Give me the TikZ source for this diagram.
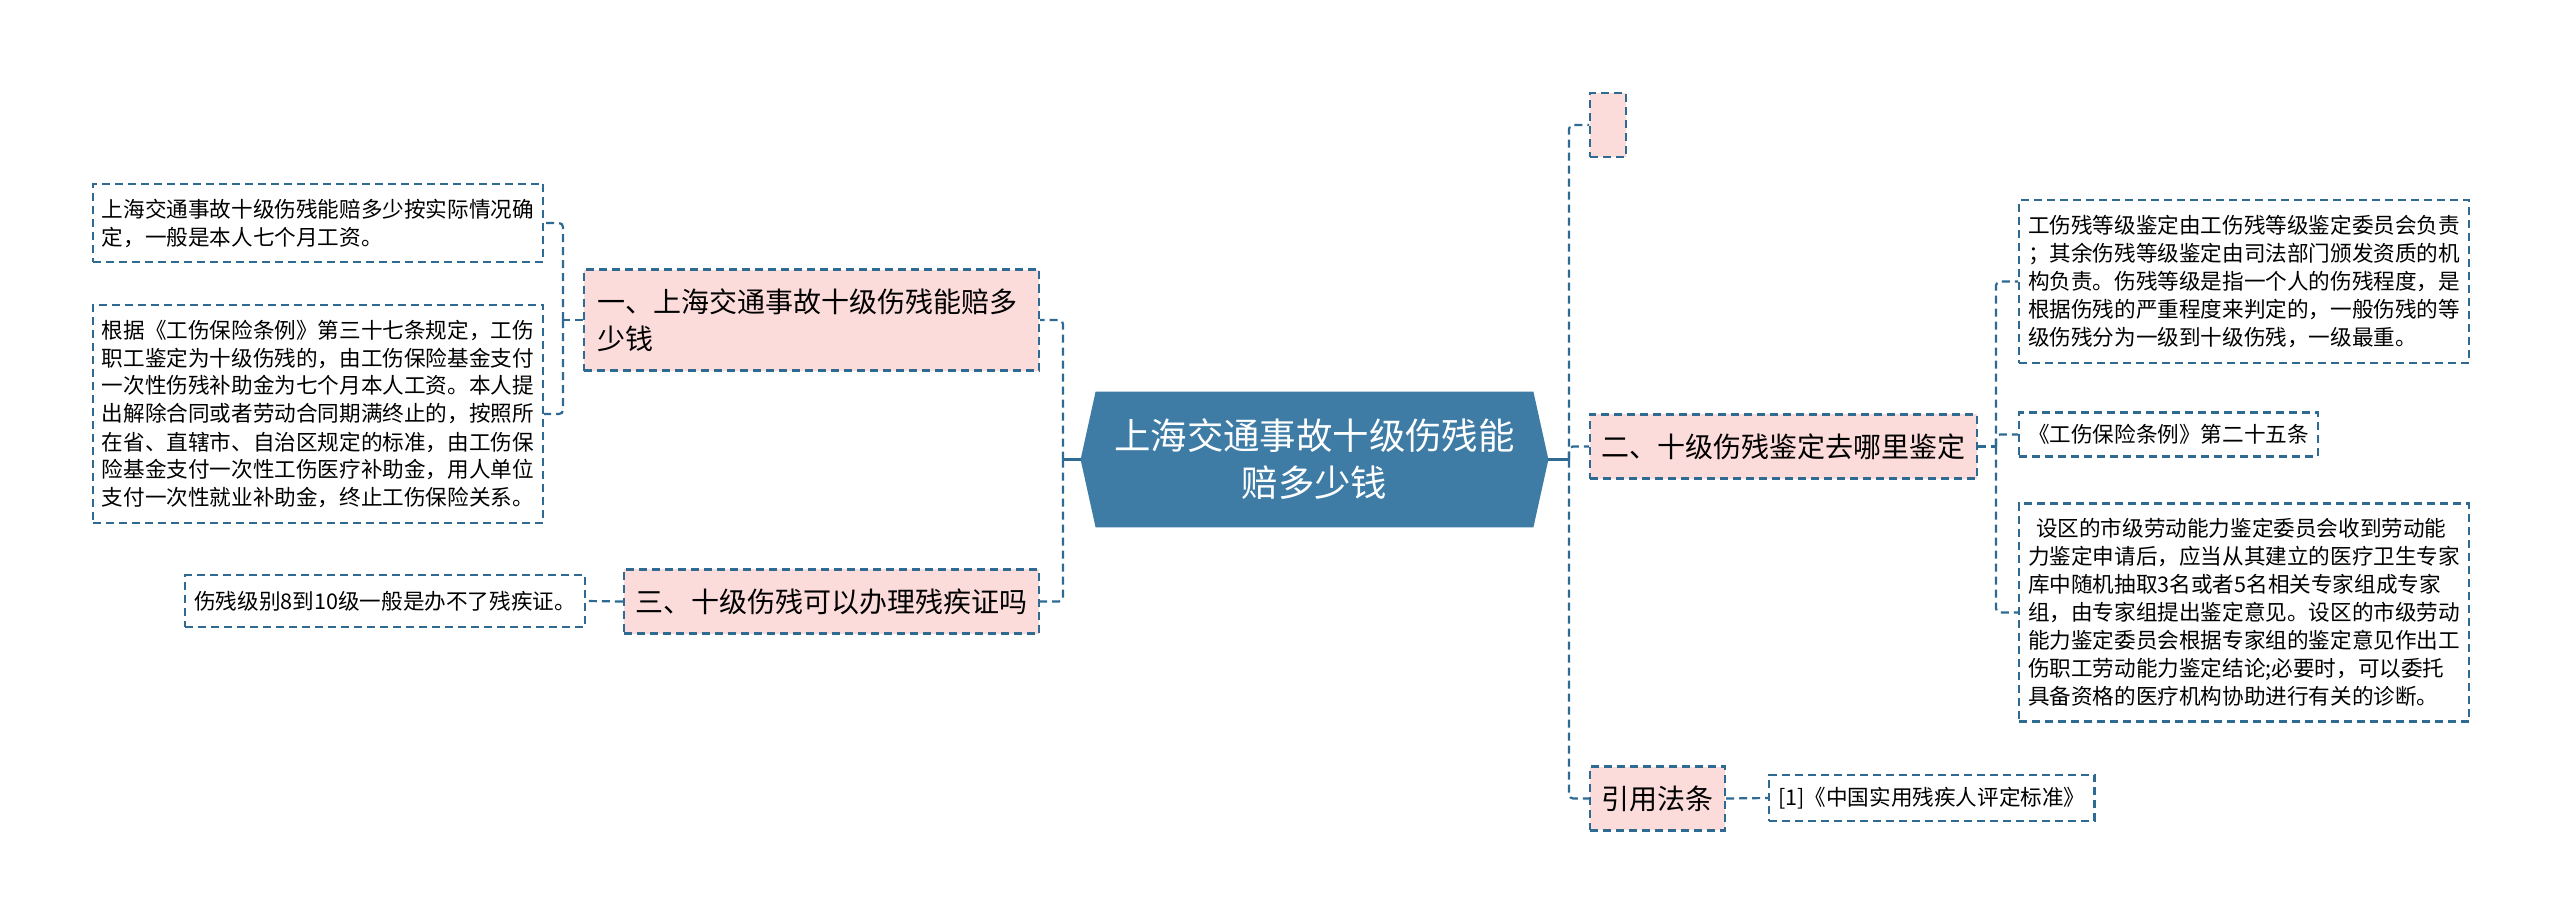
\documentclass[tikz,border=0pt]{standalone}
\usepackage{fontspec}
\setmainfont{Noto Sans CJK SC}
\usepackage{tikz}
\usetikzlibrary{backgrounds}
\definecolor{mapblue}{RGB}{62,124,166}
\definecolor{mapline}{RGB}{47,106,146}
\definecolor{mappink}{RGB}{251,220,219}

\begin{document}
\begin{tikzpicture}[x=0.5pt,y=-0.5pt,
  hub/.style={minimum width=233.5pt,minimum height=67.5pt,inner sep=0pt,align=center,text=white,font=\fontsize{18.2pt}{23.5pt}\selectfont},
  topic/.style={draw=mapline,line width=1.1pt,dash pattern=on 4pt off 2.5pt,fill=mappink,inner xsep=5.75pt,inner ysep=9.5pt,minimum height=31.5pt,align=left,font=\fontsize{14pt}{18.5pt}\selectfont},
  note/.style={draw=mapline,line width=1.1pt,dash pattern=on 4pt off 2.5pt,fill=white,inner xsep=4.5pt,inner ysep=7.5pt,align=left,font=\fontsize{10.8pt}{14pt}\selectfont},
  link/.style={mapline,line width=1.1pt,dash pattern=on 4pt off 2.5pt,rounded corners=2pt}]
\useasboundingbox (0,0) rectangle (2560,922);
\node[hub] (root) at (1314.5,459.5) {上海交通事故十级伤残能\\赔多少钱};
\begin{scope}[on background layer]
\fill[white] (0,0) rectangle (2560,922);
\fill[mapblue] ([xshift=7.5pt]root.north west) -- ([xshift=-7.5pt]root.north east) -- (root.east)
  -- ([xshift=-7.5pt]root.south east) -- ([xshift=7.5pt]root.south west) -- (root.west) -- cycle;
\end{scope}
\node[topic,text width=214pt,inner xsep=6.75pt,anchor=east] (b1) at (1040,320) {一、上海交通事故十级伤残能赔多\\少钱};
\node[topic,anchor=east] (b3) at (1040,601.5) {三、十级伤残可以办理残疾证吗};
\node[topic,anchor=west,minimum width=18pt,minimum height=32pt,inner sep=0pt] (b0) at (1589,125) {};
\node[topic,anchor=west] (b2) at (1589,446.5) {二、十级伤残鉴定去哪里鉴定};
\node[topic,anchor=west] (b4) at (1589,798.5) {引用法条};
\node[note,text width=216pt,anchor=east] (l1) at (544,223) {上海交通事故十级伤残能赔多少按实际情况确\\定，一般是本人七个月工资。};
\node[note,text width=216pt,anchor=east] (l2) at (544,414) {根据《工伤保险条例》第三十七条规定，工伤\\职工鉴定为十级伤残的，由工伤保险基金支付\\一次性伤残补助金为七个月本人工资。本人提\\出解除合同或者劳动合同期满终止的，按照所\\在省、直辖市、自治区规定的标准，由工伤保\\险基金支付一次性工伤医疗补助金，用人单位\\支付一次性就业补助金，终止工伤保险关系。};
\node[note,anchor=east,inner ysep=8pt] (l3) at (586,601) {伤残级别8到10级一般是办不了残疾证。};
\node[note,text width=216pt,anchor=west] (l4) at (2018,281.5) {工伤残等级鉴定由工伤残等级鉴定委员会负责\\；其余伤残等级鉴定由司法部门颁发资质的机\\构负责。伤残等级是指一个人的伤残程度，是\\根据伤残的严重程度来判定的，一般伤残的等\\级伤残分为一级到十级伤残，一级最重。};
\node[note,anchor=west,inner ysep=6pt] (l5) at (2018,434.5) {《工伤保险条例》第二十五条};
\node[note,text width=216pt,anchor=west] (l6) at (2018,612.5) {\hspace*{4pt}设区的市级劳动能力鉴定委员会收到劳动能\\力鉴定申请后，应当从其建立的医疗卫生专家\\库中随机抽取3名或者5名相关专家组成专家\\组，由专家组提出鉴定意见。设区的市级劳动\\能力鉴定委员会根据专家组的鉴定意见作出工\\伤职工劳动能力鉴定结论;必要时，可以委托\\具备资格的医疗机构协助进行有关的诊断。};
\node[note,anchor=west,inner ysep=6pt] (l7) at (1768,798) {[1]《中国实用残疾人评定标准》};
\coordinate (lt) at (1063,459.5);
\coordinate (rt) at (1569,459.5);
\coordinate (t1) at (563,320);
\coordinate (t2) at (1996,446.5);
\draw[mapline,line width=1.1pt] (root.west) -- (lt) (root.east) -- (rt);
\foreach \v in {b1,b3} \draw[link] (lt) |- (\v.east);
\foreach \v in {b0,b2,b4} \draw[link] (rt) |- (\v.west);
\draw[link] (b1.west) -- (t1);
\foreach \v in {l1,l2} \draw[link] (t1) |- (\v.east);
\draw[link] (b2.east) -- (t2);
\foreach \v in {l4,l5,l6} \draw[link] (t2) |- (\v.west);
\draw[link] (b3.west) -- (l3.east);
\draw[link] (b4.east) -- (l7.west);
\end{tikzpicture}
\end{document}
